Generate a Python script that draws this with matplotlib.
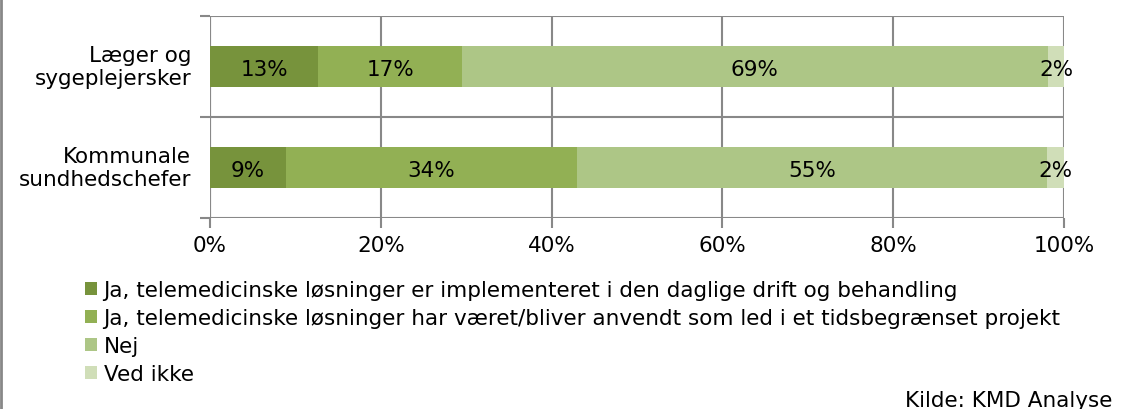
import matplotlib.pyplot as plt
from matplotlib.lines import Line2D
import numpy as np

plt.rcParams['font.family'] = ['Verdana', 'DejaVu Sans']

categories = ['Læger og\nsygeplejersker', 'Kommunale\nsundhedschefer']
series_names = [
    'Ja, telemedicinske løsninger er implementeret i den daglige drift og behandling',
    'Ja, telemedicinske løsninger har været/bliver anvendt som led i et tidsbegrænset projekt',
    'Nej',
    'Ved ikke',
]
values = [
    [12.7, 8.9],
    [16.8, 34.1],
    [68.6, 55.0],
    [2.0, 2.0],
]
colors = ['#77933C', '#92B054', '#ADC686', '#D0DEB8']

W, H = 1126, 410
fs = 15.5
fig = plt.figure(figsize=(W / 100, H / 100), dpi=100)
ax = fig.add_axes([210 / W, 1 - 219 / H, (1064 - 210) / W, (219 - 17) / H])

y = np.arange(len(categories))
left = np.zeros(len(categories))
for name, vals, col in zip(series_names, values, colors):
    vals = np.array(vals, dtype=float)
    ax.barh(y, vals, left=left, height=0.4, color=col, label=name, zorder=3)
    for yi, l, v in zip(y, left, vals):
        ax.text(l + v / 2, yi + 0.02, f'{v:.0f}%', ha='center', va='center',
                fontsize=fs, color='black', zorder=4)
    left += vals

ax.set_xlim(0, 100)
ax.set_ylim(1.5, -0.5)
ax.set_xticks(np.arange(0, 101, 20))
ax.set_xticklabels([f'{t}%' for t in range(0, 101, 20)], fontsize=fs)
ax.set_yticks([])
ax.set_yticks([-0.5, 0.5, 1.5], minor=True)
ax.tick_params(axis='y', which='minor', length=7, color='#888888', width=1.5)
ax.tick_params(axis='x', length=7, color='#888888', width=1.5, pad=5)
for yi, c in zip(y, categories):
    ax.text(-0.022, yi, c, transform=ax.get_yaxis_transform(), ha='right',
            va='center', fontsize=fs, linespacing=1.15)

ax.grid(axis='x', color='#888888', linewidth=1.5, zorder=0)
for b in [-0.5, 0.5, 1.5]:
    ax.axhline(b, color='#888888', linewidth=1.5, zorder=1)
for s in ax.spines.values():
    s.set_visible(False)
ax.axvline(0, color='#888888', linewidth=1.5, zorder=1)

leg = fig.legend(loc='upper left', bbox_to_anchor=(81 / W, 1 - 277 / H),
                 frameon=False, fontsize=fs, handlelength=0.55, handleheight=0.55,
                 handletextpad=0.3, labelspacing=0.37, borderaxespad=0,
                 borderpad=0.2)

fig.text(1112 / W, 1 - 401 / H, 'Kilde: KMD Analyse', ha='right', va='center',
         fontsize=fs)

fig.add_artist(Line2D([0.5 / W, 0.5 / W], [0, 1], color='#888888', linewidth=2,
                      transform=fig.transFigure))

fig.savefig('out.png', dpi=100)
